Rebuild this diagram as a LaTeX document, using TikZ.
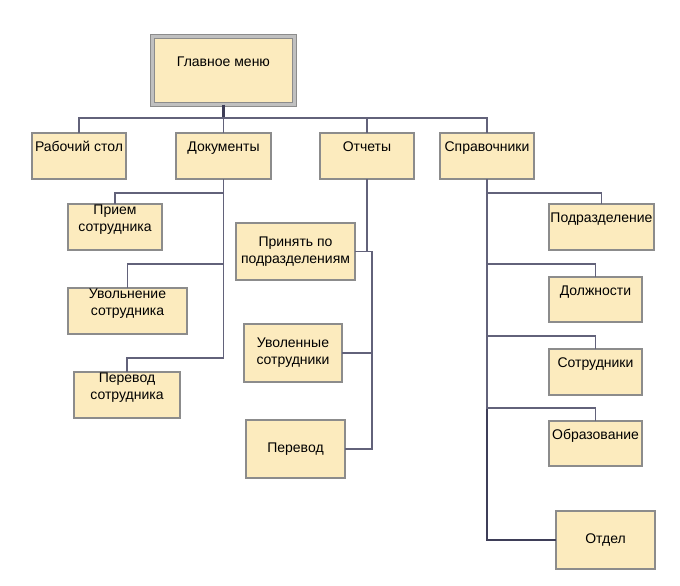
\documentclass[tikz,border=0pt]{standalone}
\usepackage{fontspec}
\setmainfont{Liberation Sans}
\definecolor{boxfill}{HTML}{FCEBBE}
\definecolor{boxline}{HTML}{8C8C8C}
\definecolor{wireline}{HTML}{62627A}
\definecolor{trunkline}{HTML}{3E3E58}
\tikzset{
    box/.style={
        rectangle,
        draw=boxline,
        line width=1.8pt,
        fill=boxfill,
        align=center,
        inner sep=1pt,
        outer sep=0pt,
        font=\fontsize{14}{17}\selectfont
    },
    mainbox/.style={
        box,
        line width=1.3pt,
        double=boxline!55,
        double distance=2.2pt
    },
    lift/.style={
        text height=#1,
        text depth=18pt
    },
    wire/.style={
        draw=wireline,
        line width=1.7pt
    },
    trunk/.style={
        draw=trunkline,
        line width=2.4pt
    }
}
\begin{document}
\begin{tikzpicture}[x=1pt, y=-1pt]
\useasboundingbox (0,0) rectangle (680,586);

% Top: main menu and first level
\node[mainbox, lift=9.5pt, minimum width=142pt, minimum height=68pt] (menu) at (223.5,70.5) {Главное меню};

\node[box, lift=9.5pt, minimum width=94pt, minimum height=46pt] (desk) at (79,156) {Рабочий стол};
\node[box, lift=9.5pt, minimum width=95pt, minimum height=46pt] (docs) at (223.5,156) {Документы};
\node[box, lift=9.5pt, minimum width=94pt, minimum height=46pt] (reports) at (367,156) {Отчеты};
\node[box, lift=9.5pt, minimum width=94pt, minimum height=46pt] (refs) at (487,156) {Справочники};

\coordinate (bar) at (223.5,118);
\draw[trunk] (menu.south) -- (bar);
\draw[wire] (desk.north) |- (bar) -| (refs.north);
\draw[wire] (docs.north) -- (docs.north |- bar);
\draw[wire] (reports.north) -- (reports.north |- bar);

% Documents
\node[box, lift=26.5pt, minimum width=94pt, minimum height=46pt] (hire) at (115,227) {Прием\\сотрудника};
\node[box, lift=26.5pt, minimum width=119pt, minimum height=46pt] (fire) at (127.5,311) {Увольнение\\сотрудника};
\node[box, lift=26.5pt, minimum width=106pt, minimum height=46pt] (move) at (127,395) {Перевод\\сотрудника};

\draw[wire] (docs.south) -- ++(0,179) -| (move.north);
\draw[wire] (hire.north) -- ++(0,-11) -| (docs.south);
\draw[wire] (fire.north) -- ++(0,-24) -| (docs.south);

% Reports
\node[box, minimum width=119pt, minimum height=57pt] (bydept) at (295.5,251.5) {Принять по\\подразделениям};
\node[box, minimum width=98pt, minimum height=58pt] (fired) at (293,353) {Уволенные\\сотрудники};
\node[box, minimum width=99pt, minimum height=58pt] (moves) at (295.5,449) {Перевод};

\coordinate (rjoint) at (372,251.5);
\draw[wire] (reports.south) -- (reports.south |- rjoint);
\draw[wire] (bydept.east) -- (rjoint) |- (moves.east);
\draw[wire] (fired.east) -- (fired.east -| rjoint);

% Directories
\node[box, lift=9.5pt, minimum width=105pt, minimum height=46pt] (depts) at (601.5,227) {Подразделение};
\node[box, lift=9.5pt, minimum width=93pt, minimum height=45pt] (posts) at (595.5,299.5) {Должности};
\node[box, lift=9.5pt, minimum width=93pt, minimum height=46pt] (staff) at (595.5,372) {Сотрудники};
\node[box, lift=9.5pt, minimum width=93pt, minimum height=45pt] (edu) at (595.5,443.5) {Образование};
\node[box, minimum width=99pt, minimum height=58pt] (unit) at (605.5,540) {Отдел};

\draw[trunk] (refs.south) |- (unit.west);
\draw[wire] (depts.north) -- ++(0,-11) -| (refs.south);
\draw[wire] (posts.north) -- ++(0,-13) -| (refs.south);
\draw[wire] (staff.north) -- ++(0,-13) -| (refs.south);
\draw[wire] (edu.north) -- ++(0,-13) -| (refs.south);

\end{tikzpicture}
\end{document}
